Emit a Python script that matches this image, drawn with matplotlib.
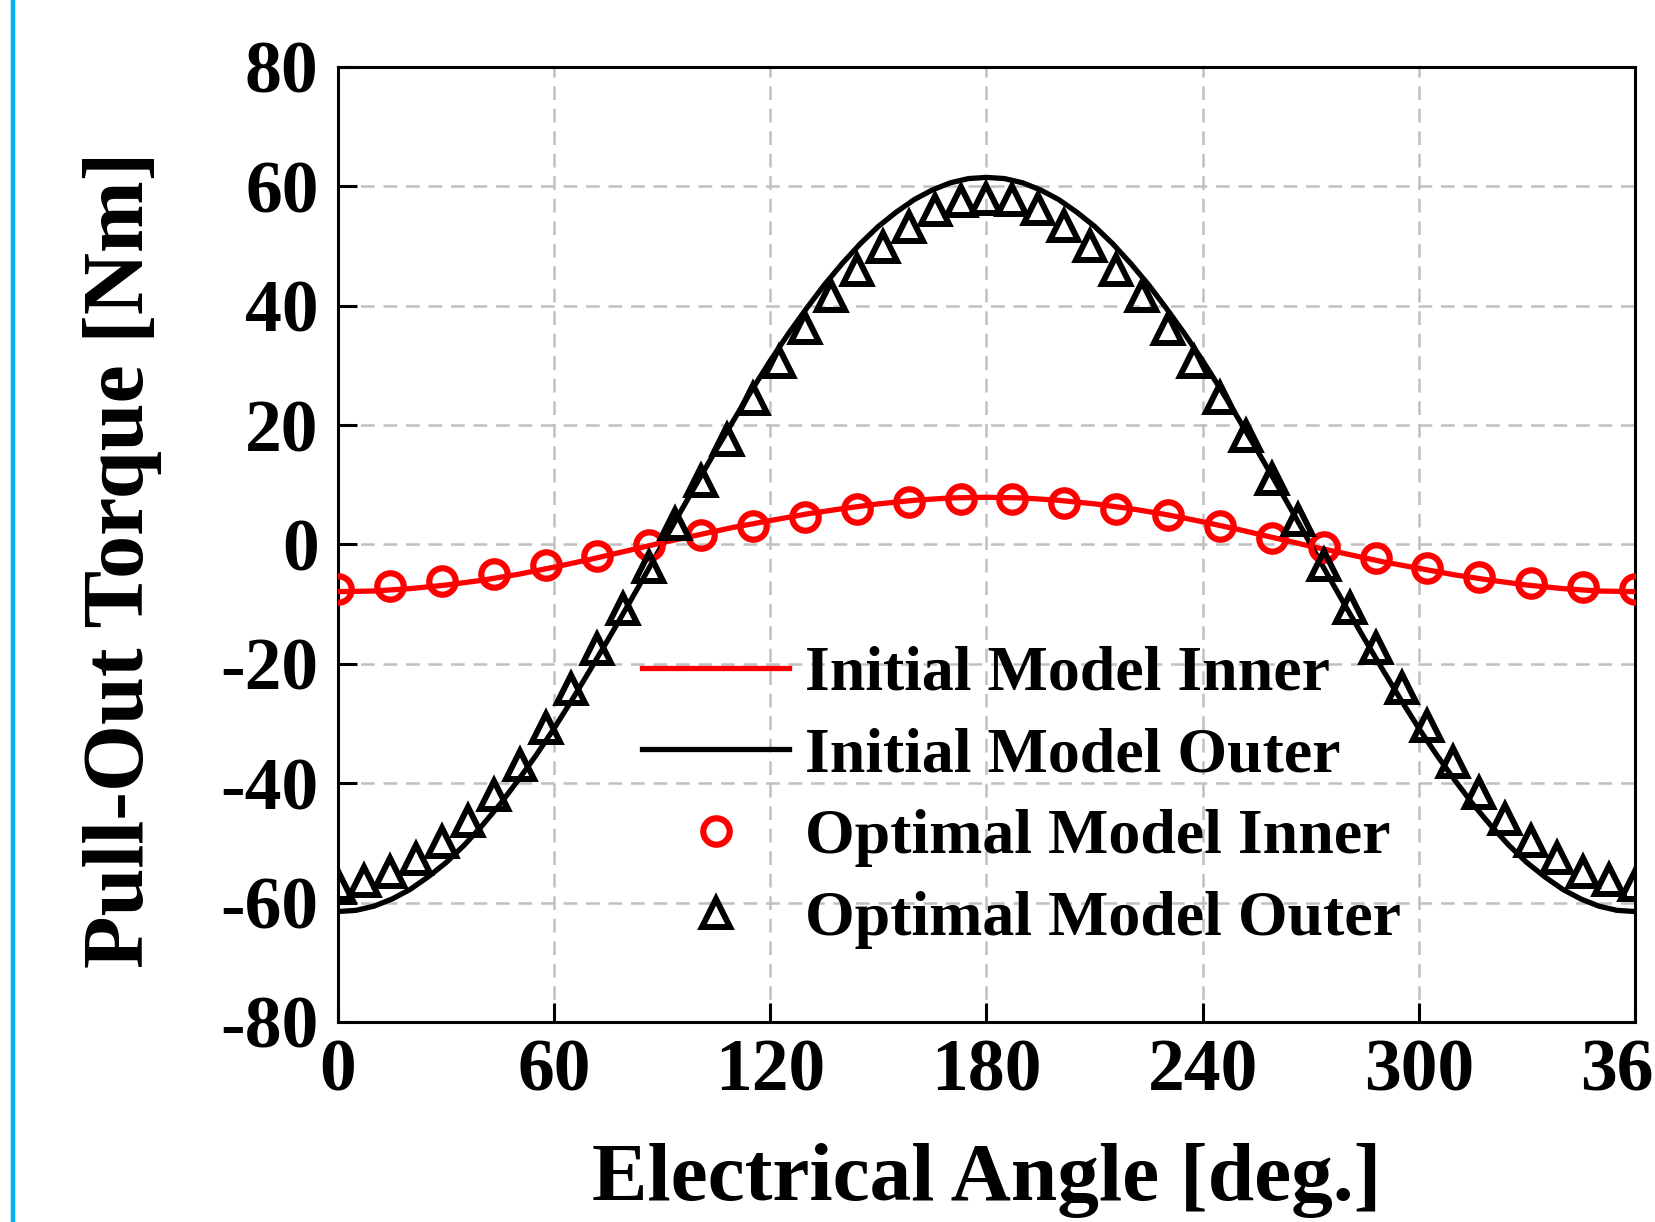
import numpy as np
import matplotlib
matplotlib.use('Agg')
import matplotlib.pyplot as plt
from matplotlib.lines import Line2D

plt.rcParams['font.family'] = ['Liberation Serif', 'DejaVu Serif']
plt.rcParams['font.weight'] = 'bold'
plt.rcParams['axes.unicode_minus'] = False

# initial model inner, every 10 deg
ang_init_in = [0, 10, 20, 30, 40, 50, 60, 70, 80, 90, 100, 110, 120, 130, 140, 150, 160, 170, 180,
               190, 200, 210, 220, 230, 240, 250, 260, 270, 280, 290, 300, 310, 320, 330, 340, 350, 360]
init_inner = [-7.9, -7.8, -7.4, -6.8, -6.0, -5.0, -3.8, -2.5, -1.1, 0.3, 1.6, 2.9, 4.0, 5.1, 6.0, 6.8, 7.4, 7.8, 7.9,
              7.8, 7.4, 6.8, 6.0, 5.0, 3.8, 2.5, 1.1, -0.3, -1.6, -2.9, -4.0, -5.1, -6.0, -6.8, -7.4, -7.8, -7.9]

# initial model outer, every 5 deg
ang_init_out = [0, 5, 10, 15, 20, 25, 30, 35, 40, 45, 50, 55, 60, 65, 70, 75, 80, 85, 90,
                95, 100, 105, 110, 115, 120, 125, 130, 135, 140, 145, 150, 155, 160, 165, 170, 175, 180,
                185, 190, 195, 200, 205, 210, 215, 220, 225, 230, 235, 240, 245, 250, 255, 260, 265, 270,
                275, 280, 285, 290, 295, 300, 305, 310, 315, 320, 325, 330, 335, 340, 345, 350, 355, 360]
init_outer = [-61.5, -61.3, -60.6, -59.4, -57.8, -55.7, -53.3, -50.4, -47.1, -43.5, -39.5, -35.3, -30.8, -26.0, -21.0, -15.9, -10.7, -5.4, 0.0,
              5.4, 10.7, 15.9, 21.0, 26.0, 30.8, 35.3, 39.5, 43.5, 47.1, 50.4, 53.3, 55.7, 57.8, 59.4, 60.6, 61.3, 61.5,
              61.3, 60.6, 59.4, 57.8, 55.7, 53.3, 50.4, 47.1, 43.5, 39.5, 35.3, 30.8, 26.0, 21.0, 15.9, 10.7, 5.4, 0.0,
              -5.4, -10.7, -15.9, -21.0, -26.0, -30.8, -35.3, -39.5, -43.5, -47.1, -50.4, -53.3, -55.7, -57.8, -59.4, -60.6, -61.3, -61.5]

# optimal model, inner (every 14.4 deg)
ang_opt_in = [0, 14.4, 28.8, 43.2, 57.6, 72.0, 86.4, 100.8, 115.2, 129.6, 144.0, 158.4, 172.8,
              187.2, 201.6, 216.0, 230.4, 244.8, 259.2, 273.6, 288.0, 302.4, 316.8, 331.2, 345.6, 360.0]
opt_inner = [-7.4, -7.0, -6.2, -5.0, -3.5, -2.0, -0.1, 1.6, 3.1, 4.6, 6.0, 7.1, 7.6,
             7.7, 7.0, 5.9, 4.9, 3.1, 1.0, -0.5, -2.2, -3.9, -5.4, -6.5, -7.1, -7.5]

# optimal model, outer (every 7.2 deg)
ang_opt_out = [0, 7.2, 14.4, 21.6, 28.8, 36.0, 43.2, 50.4, 57.6, 64.8, 72.0, 79.2, 86.4, 93.6, 100.8, 108.0, 115.2,
               122.4, 129.6, 136.8, 144.0, 151.2, 158.4, 165.6, 172.8, 180.0, 187.2, 194.4, 201.6, 208.8, 216.0,
               223.2, 230.4, 237.6, 244.8, 252.0, 259.2, 266.4, 273.6, 280.8, 288.0, 295.2, 302.4, 309.6, 316.8,
               324.0, 331.2, 338.4, 345.6, 352.8, 360.0]
opt_outer = [-57.0, -56.3, -54.9, -52.7, -49.8, -46.3, -41.9, -36.9, -30.8, -24.2, -17.5, -10.8, -3.7, 3.4, 10.6, 17.5, 24.3,
             30.6, 36.3, 41.6, 46.0, 49.8, 53.2, 56.0, 57.6, 57.9, 57.7, 56.2, 53.4, 50.0, 45.9,
             41.6, 36.1, 30.6, 24.6, 18.1, 11.0, 4.1, -3.5, -10.6, -17.4, -24.0, -30.4, -36.5, -41.6,
             -46.0, -49.7, -52.6, -54.8, -56.2, -57.0]

fig = plt.figure(figsize=(16.56, 12.22), dpi=100)
ax = fig.add_axes([0.2041, 0.1637, 0.7832, 0.7815])

ax.plot(ang_init_in, init_inner, color='#ff0000', lw=3.8, label='Initial Model Inner', zorder=3)
ax.plot(ang_init_out, init_outer, color='black', lw=3.8, label='Initial Model Outer', zorder=3)
ax.plot(ang_opt_in, opt_inner, ls='none', marker='o', ms=19, mew=4.5, mfc='none', mec='#ff0000',
        label='Optimal Model Inner', zorder=4)
ax.plot(ang_opt_out, opt_outer, ls='none', marker='^', ms=20, mew=4.3, mfc='none', mec='black',
        label='Optimal Model Outer', zorder=4)

ax.set_xlim(0, 360)
ax.set_ylim(-80, 80)
ax.set_xticks(np.arange(0, 361, 60))
ax.set_yticks(np.arange(-80, 81, 20))
ax.grid(True, color='#c0c0c0', lw=1.8, ls=(0, (5.5, 3.5)))
ax.set_axisbelow(True)

for s in ax.spines.values():
    s.set_linewidth(2.2)
ax.tick_params(direction='in', length=14, width=2.2, labelsize=53)
ax.tick_params(axis='x', pad=12)
ax.tick_params(axis='y', pad=14)

ax.set_xlabel('Electrical Angle [deg.]', fontsize=60, fontweight='bold', va='baseline')
ax.xaxis.set_label_coords(0.5, -0.186)
ax.set_ylabel('Pull-Out Torque [Nm]', fontsize=62, fontweight='bold', va='center')
ax.yaxis.set_label_coords(-0.166, 0.484)

ax.legend(loc='upper left', bbox_to_anchor=(0.21, 0.428), frameon=False, fontsize=46,
          handlelength=2.3, handletextpad=0.25, labelspacing=0.36, borderpad=0, numpoints=1)

# blue edge line on the left of the picture
fig.add_artist(Line2D([0.0078, 0.0078], [0, 1], transform=fig.transFigure, color='#00b0f0', lw=3.2))

plt.savefig('out.png', dpi=100)
